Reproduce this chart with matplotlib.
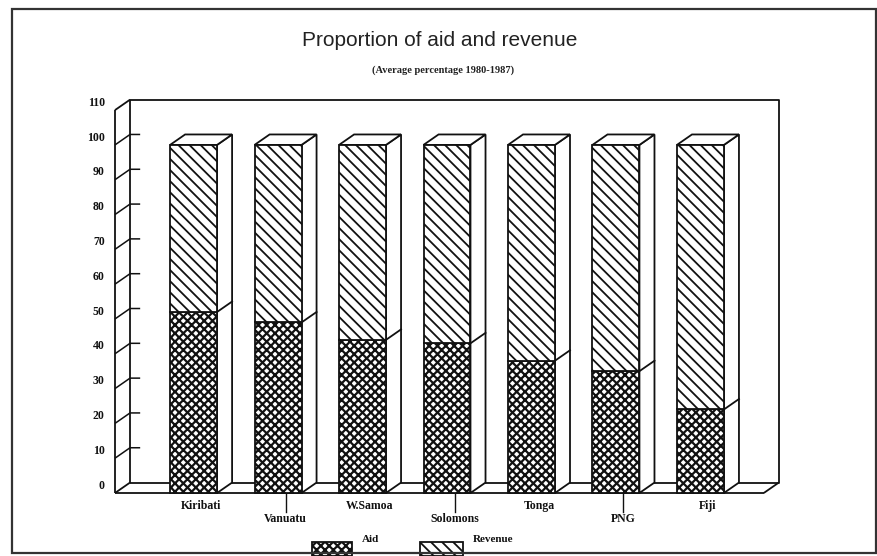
import matplotlib
matplotlib.use("Agg")
import matplotlib.pyplot as plt
from matplotlib.patches import Polygon, Rectangle
import numpy as np

# ---------------- data ----------------
categories = ["Kiribati", "Vanuatu", "W.Samoa", "Solomons", "Tonga", "PNG", "Fiji"]
aid = [52, 49, 44, 43, 38, 35, 24]
revenue = [48, 51, 56, 57, 62, 65, 76]
yticks = [0, 10, 20, 30, 40, 50, 60, 70, 80, 90, 100, 110]

# ---------------- layout / style ----------------
W, H = 878, 556
plt.rcParams["hatch.linewidth"] = 1.4
fig = plt.figure(figsize=(W / 100, H / 100), dpi=100)
fig.patch.set_facecolor("white")

SERIF = ["Liberation Serif", "DejaVu Serif"]
SANS = ["Liberation Sans", "DejaVu Sans"]

X_LEFT, X_RIGHT = -0.93, 6.93
Y_TOP = 112.9
DX, DY = 0.178, 3.0          # depth offset in data units
BAR_W = 0.556
X_FLOOR_END = 6.75           # right end of front floor edge

ax = fig.add_axes([115 / W, 63 / H, 664 / W, 393 / H])
ax.set_xlim(X_LEFT, X_RIGHT)
ax.set_ylim(0, Y_TOP)
ax.axis("off")

LW = 1.3
K = "#111111"

def line(xs, ys, lw=LW, z=1):
    ax.plot(xs, ys, color=K, lw=lw, solid_capstyle="butt", zorder=z, clip_on=False)

ymax = yticks[-1]
# back wall
line([X_LEFT + DX, X_LEFT + DX, X_FLOOR_END + DX, X_FLOOR_END + DX, X_LEFT + DX],
     [DY, ymax + DY, ymax + DY, DY, DY])
# front left axis + connectors
line([X_LEFT, X_LEFT], [0, ymax])
line([X_LEFT, X_LEFT + DX], [ymax, ymax + DY])
line([X_LEFT, X_LEFT + DX], [0, DY])
# floor front edge and right slant
line([X_LEFT, X_FLOOR_END], [0, 0])
line([X_FLOOR_END, X_FLOOR_END + DX], [0, DY])

# y ticks
for v in yticks:
    if 0 < v < ymax:
        line([X_LEFT, X_LEFT + DX, X_LEFT + DX + 0.12], [v, v + DY, v + DY], lw=1.1)
    ax.text(X_LEFT - 0.12, v + DY - 0.9, str(v), ha="right", va="center",
            fontsize=8.5, fontweight="bold", family=SERIF, color=K, clip_on=False)

# bars
hatch_aid = "xxxx"
hatch_rev = "\\\\\\"
for i, (a, r) in enumerate(zip(aid, revenue)):
    x0 = i - BAR_W / 2
    x1 = i + BAR_W / 2
    tot = a + r
    z = 3 + i * 0.01
    # side face
    side = Polygon([(x1, 0), (x1 + DX, DY), (x1 + DX, tot + DY), (x1, tot)],
                   closed=True, facecolor="white", edgecolor=K, lw=LW, zorder=z, clip_on=False)
    ax.add_patch(side)
    # top face
    top = Polygon([(x0, tot), (x0 + DX, tot + DY), (x1 + DX, tot + DY), (x1, tot)],
                  closed=True, facecolor="white", edgecolor=K, lw=LW, zorder=z, clip_on=False)
    ax.add_patch(top)
    # aid segment
    pa = Rectangle((x0, 0), BAR_W, a, facecolor="white", edgecolor=K, hatch=hatch_aid,
                   lw=LW, zorder=z + 0.001, clip_on=False)
    if hasattr(pa, "set_hatch_linewidth"):
        pa.set_hatch_linewidth(1.6)
    ax.add_patch(pa)
    # revenue segment
    pr = Rectangle((x0, a), BAR_W, r, facecolor="white", edgecolor=K, hatch=hatch_rev,
                   lw=LW, zorder=z + 0.001, clip_on=False)
    if hasattr(pr, "set_hatch_linewidth"):
        pr.set_hatch_linewidth(1.3)
    ax.add_patch(pr)
    # boundary line on side face
    ax.plot([x1, x1 + DX], [a, a + DY], color=K, lw=LW, zorder=z + 0.002, clip_on=False)

    # category labels (staggered)
    lx = i + DX / 2
    if i % 2 == 0:
        ax.text(lx, -3.6, categories[i], ha="center", va="center", fontsize=8.5,
                family=SERIF, fontweight="semibold", color=K, clip_on=False)
    else:
        ax.plot([lx, lx], [0, -5.6], color=K, lw=1.0, zorder=2, clip_on=False)
        ax.text(lx, -7.5, categories[i], ha="center", va="center", fontsize=8.5,
                family=SERIF, fontweight="semibold", color=K, clip_on=False)

# titles
fig.text(440 / W, 1 - 40 / H, "Proportion of aid and revenue", ha="center", va="center",
         fontsize=15, family=SANS, color="#222222")
fig.text(443 / W, 1 - 70 / H, "(Average percentage 1980-1987)", ha="center", va="center",
         fontsize=7.5, fontweight="bold", family=SERIF, color="#222222")

# legend (manual, bottom)
leg_items = [("Aid", hatch_aid, 312, 352, 362, 1.6), ("Revenue", hatch_rev, 420, 463, 473, 1.3)]
for lab, hat, sx0, sx1, tx, hlw in leg_items:
    sw = Rectangle((sx0 / W, 0), (sx1 - sx0) / W, (556 - 542) / H, transform=fig.transFigure,
                   facecolor="white", edgecolor=K, hatch=hat, lw=LW, zorder=5)
    if hasattr(sw, "set_hatch_linewidth"):
        sw.set_hatch_linewidth(hlw)
    fig.patches.append(sw)
    fig.text(tx / W, 1 - 540 / H, lab, ha="left", va="center", fontsize=8,
             fontweight="bold", family=SERIF, color=K)

# outer frame
frame = Rectangle((12 / W, 3 / H), 864 / W, 544 / H, transform=fig.transFigure,
                  facecolor="none", edgecolor="#333333", lw=1.6, zorder=10)
fig.patches.append(frame)

fig.savefig("out.png", dpi=100, facecolor="white")
